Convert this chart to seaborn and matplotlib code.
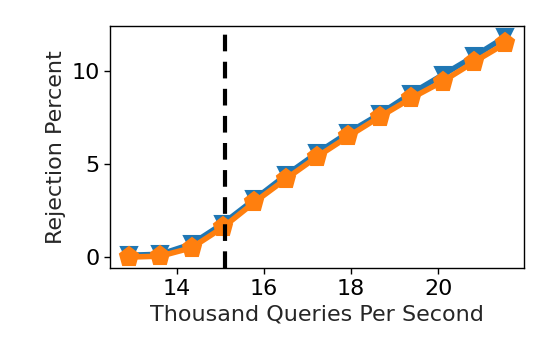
import matplotlib
matplotlib.use("Agg")
import matplotlib.pyplot as plt
import seaborn as sns
import pandas as pd

sns.set_style("ticks", {"axes.edgecolor": "black", "xtick.color": "black", "ytick.color": "black"})
plt.rcParams['font.family'] = ['DejaVu Sans']

# thousand queries per second
kqps = [12.9, 13.62, 14.34, 15.06, 15.78, 16.5, 17.22, 17.94, 18.66, 19.38, 20.1, 20.82, 21.54]
# rejection percent, two policies
reject_a = [0.1, 0.15, 0.7, 1.8, 3.1, 4.4, 5.6, 6.7, 7.7, 8.8, 9.8, 10.8, 11.85]
reject_b = [0.0, 0.05, 0.5, 1.6, 2.95, 4.2, 5.4, 6.5, 7.55, 8.55, 9.45, 10.5, 11.5]
threshold = 15.1

df = pd.DataFrame({'kqps': kqps, 'a': reject_a, 'b': reject_b})

fig = plt.figure(figsize=(5.5, 3.5), dpi=100)
ax = fig.add_axes([0.2, 0.234, 0.753, 0.692])

sns.lineplot(data=df, x='kqps', y='a', ax=ax, color='#1f77b4', marker='v',
             markersize=12, linewidth=4, markeredgewidth=1.5, markeredgecolor='#1f77b4')
sns.lineplot(data=df, x='kqps', y='b', ax=ax, color='#ff7f0e', marker='p',
             markersize=14, linewidth=4, markeredgewidth=1.5, markeredgecolor='#ff7f0e')
ax.axvline(threshold, color='black', linestyle='--', linewidth=3, dashes=(4, 2.5))

ax.set_xticks([14, 16, 18, 20])
ax.set_yticks([0, 5, 10])
ax.tick_params(labelsize=16, length=4, width=1)
ax.set_xlabel('Thousand Queries Per Second', fontsize=16)
ax.set_ylabel('Rejection Percent', fontsize=16)
for s in ax.spines.values():
    s.set_linewidth(1)

plt.savefig('out.png', dpi=100)
plt.close()
